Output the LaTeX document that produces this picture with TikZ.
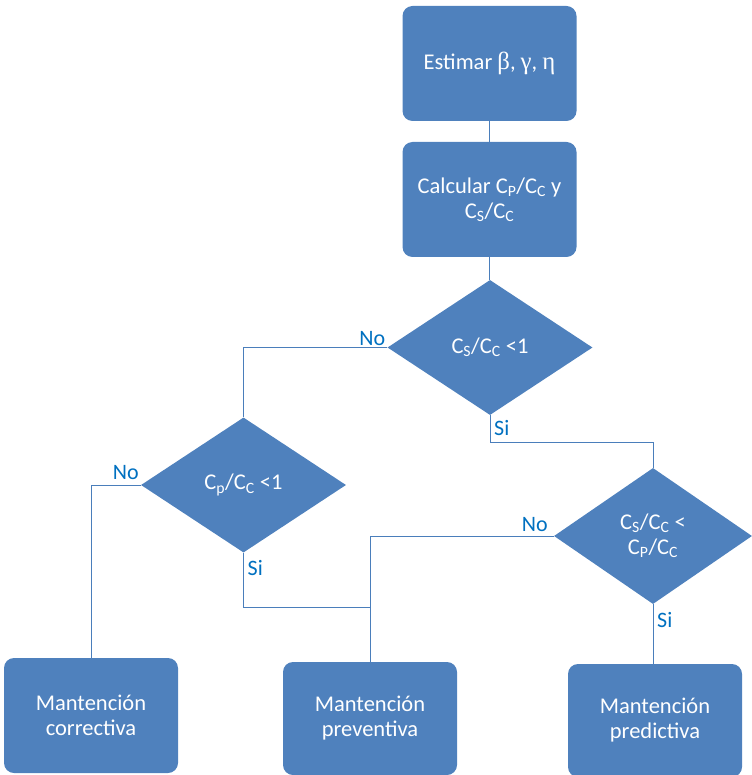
\documentclass[tikz,border=0pt]{standalone}
\usepackage{fontspec}
\setmainfont{Carlito}
\newfontfamily\grk[Scale=1.1]{Liberation Serif}
\usetikzlibrary{shapes.geometric}
\definecolor{boxblue}{HTML}{4F81BD}
\definecolor{linkblue}{HTML}{4A7EBB}
\definecolor{labelblue}{HTML}{0070C0}
\begin{document}
\begin{tikzpicture}[x=1pt,y=-1pt,
  stepbox/.style={rectangle, rounded corners=10pt, fill=boxblue, text=white,
    minimum width=174pt, minimum height=115pt, align=center, inner sep=0pt,
    font=\fontsize{22.5}{25}\selectfont},
  decision/.style={diamond, fill=boxblue, text=white, inner sep=0pt,
    align=center, aspect=1.5, minimum width=205pt, minimum height=135pt,
    font=\fontsize{22.5}{25}\selectfont},
  link/.style={draw=linkblue, line width=1pt},
  answer/.style={text=labelblue, inner sep=0pt,
    font=\fontsize{22}{24}\selectfont}]

\useasboundingbox (0,0) rectangle (751,775);

% process steps
\node[stepbox] (est) at (489.5,63.5) {Estimar {\grk β}, {\grk γ}, {\grk η}};
\node[stepbox] (calc) at (489.5,199.5)
  {Calcular C\textsubscript{P}/C\textsubscript{C} y\\C\textsubscript{S}/C\textsubscript{C}};

% decisions
\node[decision] (d1) at (490,347.5) {C\textsubscript{S}/C\textsubscript{C} <1};
\node[decision] (d2) at (243.5,485) {C\textsubscript{p}/C\textsubscript{C} <1};
\node[decision, minimum width=198pt, minimum height=136pt] (d3) at (653,536)
  {C\textsubscript{S}/C\textsubscript{C} <\\C\textsubscript{P}/C\textsubscript{C}};

% outcomes
\node[stepbox] (corr) at (91,715.5) {Mantención\\correctiva};
\node[stepbox, minimum height=113pt] (prev) at (370,718.5) {Mantención\\preventiva};
\node[stepbox, minimum height=113pt] (pred) at (655,720.5) {Mantención\\predictiva};

% connectors
\draw[link] (est) -- (calc);
\draw[link] (calc.south) -- (calc.south |- d1.north);
\draw[link] (d1.west) -| (d2.north);
\draw[link] (d1.south) -- ++(0,27) -| (d3.north);
\draw[link] (d2.west) -| (corr.north);
\coordinate (join) at (370,607);
\draw[link] (d2.south) |- (join);
\draw[link] (d3.west) -| (prev.north);
\draw[link] (d3.south) -- (d3.south |- pred.north);

% branch labels
\node[answer, anchor=south east, xshift=-2pt, yshift=2pt] (no1) at (d1.west) {No};
\node[answer, anchor=north west, xshift=4pt, yshift=-5pt] (si1) at (d1.south) {Si};
\node[answer, anchor=south east, xshift=-2pt, yshift=5pt] (no2) at (d2.west) {No};
\node[answer, anchor=north west, xshift=4pt, yshift=-7pt] (si2) at (d2.south) {Si};
\node[answer, anchor=south east, xshift=-6pt, yshift=4pt] (no3) at (d3.west) {No};
\node[answer, anchor=north west, xshift=4pt, yshift=-8pt] (si3) at (d3.south) {Si};
\end{tikzpicture}
\end{document}
